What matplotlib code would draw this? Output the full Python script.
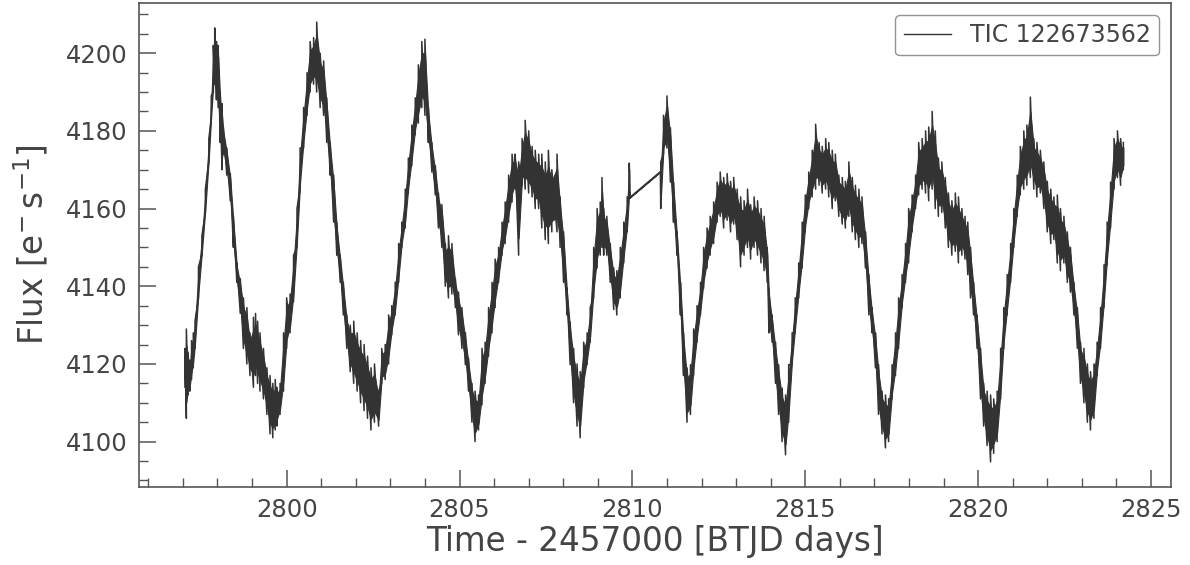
import numpy as np
import matplotlib
matplotlib.use("Agg")
import matplotlib.pyplot as plt

# Light curve: time, lower and upper envelope of the noisy flux
time = [2797.06, 2797.10, 2797.15, 2797.20, 2797.25, 2797.30, 2797.35, 2797.45, 2797.55, 2797.65,
        2797.75, 2797.82, 2797.88, 2797.92, 2797.97, 2798.02, 2798.08, 2798.13, 2798.17, 2798.27,
        2798.37, 2798.46, 2798.56, 2798.66, 2798.75, 2798.85, 2798.94, 2799.04, 2799.10, 2799.16,
        2799.23, 2799.33, 2799.43, 2799.52, 2799.60, 2799.67, 2799.72, 2799.81, 2799.91, 2800.00,
        2800.10, 2800.20, 2800.30, 2800.39, 2800.49, 2800.59, 2800.68, 2800.78, 2800.87, 2800.97,
        2801.07, 2801.16, 2801.26, 2801.36, 2801.45, 2801.55, 2801.64, 2801.74, 2801.84, 2801.94,
        2802.04, 2802.14, 2802.24, 2802.34, 2802.44, 2802.54, 2802.66, 2802.75, 2802.85, 2802.95,
        2803.04, 2803.14, 2803.24, 2803.33, 2803.43, 2803.52, 2803.62, 2803.72, 2803.81, 2803.91,
        2804.00, 2804.10, 2804.20, 2804.30, 2804.39, 2804.49, 2804.59, 2804.68, 2804.78, 2804.88,
        2804.97, 2805.07, 2805.17, 2805.26, 2805.36, 2805.45, 2805.55, 2805.65, 2805.74, 2805.84,
        2805.94, 2806.03, 2806.13, 2806.23, 2806.32, 2806.42, 2806.52, 2806.61, 2806.71, 2806.81,
        2806.90, 2807.00, 2807.10, 2807.19, 2807.29, 2807.38, 2807.48, 2807.57, 2807.67, 2807.82,
        2807.91, 2808.01, 2808.11, 2808.20, 2808.30, 2808.40, 2808.49, 2808.59, 2808.69, 2808.78,
        2808.88, 2808.98, 2809.07, 2809.12, 2809.17, 2809.26, 2809.36, 2809.46, 2809.55, 2809.65,
        2809.75, 2809.85, 2809.91, 2809.92,
        2810.81, 2810.82, 2810.90, 2811.00, 2811.10, 2811.19, 2811.29, 2811.39, 2811.48, 2811.58,
        2811.68, 2811.77, 2811.87, 2811.97, 2812.06, 2812.16, 2812.25, 2812.35, 2812.45, 2812.54,
        2812.64, 2812.74, 2812.84, 2812.93, 2813.03, 2813.13, 2813.23, 2813.33, 2813.42, 2813.52,
        2813.62, 2813.72, 2813.81, 2813.90, 2813.95, 2814.04, 2814.14, 2814.23, 2814.33, 2814.43,
        2814.52, 2814.62, 2814.71, 2814.81, 2814.91, 2815.00, 2815.10, 2815.20, 2815.30, 2815.40,
        2815.49, 2815.59, 2815.68, 2815.78, 2815.87, 2815.97, 2816.07, 2816.16, 2816.26, 2816.36,
        2816.45, 2816.55, 2816.64, 2816.74, 2816.84, 2816.93, 2817.03, 2817.12, 2817.22, 2817.32,
        2817.41, 2817.51, 2817.61, 2817.70, 2817.80, 2817.90, 2817.99, 2818.09, 2818.19, 2818.28,
        2818.38, 2818.48, 2818.57, 2818.67, 2818.76, 2818.85, 2818.95, 2819.05, 2819.14, 2819.24,
        2819.34, 2819.43, 2819.53, 2819.62, 2819.70, 2819.78, 2819.87, 2819.97, 2820.07, 2820.16,
        2820.26, 2820.36, 2820.45, 2820.55, 2820.65, 2820.74, 2820.84, 2820.94, 2821.03, 2821.13,
        2821.22, 2821.32, 2821.41, 2821.51, 2821.61, 2821.70, 2821.80, 2821.90, 2822.00, 2822.10,
        2822.19, 2822.29, 2822.38, 2822.48, 2822.58, 2822.67, 2822.77, 2822.87, 2822.96, 2823.06,
        2823.16, 2823.25, 2823.35, 2823.44, 2823.54, 2823.64, 2823.73, 2823.83, 2823.93, 2824.03,
        2824.12, 2824.20]

flux_low = [4114, 4106, 4112, 4113, 4116, 4119, 4124, 4137, 4148, 4159,
            4172, 4183, 4190, 4192, 4188, 4186, 4177, 4170, 4174, 4168.6,
            4162, 4150, 4141, 4133, 4124, 4120, 4117, 4114, 4117, 4115,
            4113, 4111, 4107, 4102, 4101, 4103, 4104, 4107, 4113, 4124,
            4128, 4136, 4150, 4165, 4175.6, 4184, 4190, 4192, 4190, 4186,
            4184, 4177, 4168.6, 4156.5, 4148, 4141, 4132.6, 4124, 4118, 4115,
            4113, 4110, 4108, 4106, 4103, 4105, 4104, 4115, 4116, 4120,
            4127.5, 4132.6, 4141, 4150, 4155, 4164, 4171, 4179, 4182, 4186,
            4184, 4177, 4169.4, 4163.5, 4155, 4150, 4140, 4137, 4138, 4134.5,
            4127.5, 4124, 4119.8, 4113, 4105, 4100, 4103, 4109.5, 4115, 4122,
            4128, 4134.5, 4141, 4148, 4151, 4156.5, 4161.7, 4165, 4148, 4166,
            4165, 4164, 4163, 4160, 4160, 4155, 4152, 4151, 4154, 4154,
            4150, 4141, 4132.6, 4119.8, 4110, 4104, 4101, 4113.8, 4119.8, 4125.6,
            4137, 4144.7, 4148, 4150, 4148, 4148, 4141, 4134, 4132.6, 4137,
            4146, 4154, 4162.8, 4162.8,
            4169.5, 4160, 4174, 4175.6, 4166.8, 4156.5, 4148, 4132.6, 4117, 4105,
            4107, 4117, 4125.6, 4132.6, 4139.5, 4144.7, 4148, 4151, 4156.5, 4158,
            4155, 4157, 4154, 4156, 4152, 4145, 4148, 4150, 4147, 4150,
            4148, 4146, 4144, 4141, 4128, 4125.6, 4115, 4107, 4100, 4096.6,
            4105, 4119.8, 4128, 4137, 4144.7, 4154, 4160, 4163, 4165, 4166,
            4164, 4165, 4163, 4160, 4162, 4158, 4156, 4155, 4158, 4154,
            4152, 4150, 4151, 4144.7, 4132.6, 4128, 4119, 4107, 4102, 4098.4,
            4100, 4111, 4117, 4124, 4134.5, 4141, 4146, 4154, 4160, 4163.5,
            4165, 4164, 4162, 4165, 4160, 4158, 4159, 4155, 4150, 4148,
            4149, 4146, 4148, 4147, 4143, 4137, 4132.6, 4124, 4111, 4104,
            4099, 4094.8, 4097, 4100, 4111, 4124, 4132.6, 4141, 4150, 4158,
            4163.5, 4165, 4166, 4168, 4165, 4163, 4164, 4160, 4154, 4151,
            4152, 4146, 4144, 4146, 4141, 4138.5, 4132.6, 4124, 4115, 4110,
            4105, 4103, 4106, 4117, 4124, 4134.5, 4145.5, 4155, 4165, 4168,
            4166, 4170]

flux_high = [4124, 4129, 4123, 4121, 4126, 4128, 4131, 4145, 4153, 4165,
             4178, 4189, 4202, 4206.5, 4203, 4202, 4190, 4187, 4181, 4175.6,
             4169, 4158, 4146, 4142, 4137, 4134.5, 4128, 4132, 4133, 4131,
             4128, 4124, 4119, 4117, 4115, 4116, 4114, 4115, 4128, 4137,
             4138, 4148, 4160, 4175.6, 4186, 4195, 4203, 4204, 4208, 4200,
             4198, 4188.5, 4177, 4168.6, 4156.5, 4148, 4141, 4132.6, 4130, 4131,
             4128, 4126, 4125, 4122, 4119, 4120, 4113, 4124, 4125, 4132.6,
             4135, 4141, 4151, 4156.5, 4165, 4173, 4181.5, 4188.5, 4197, 4203,
             4203.6, 4186, 4177, 4171, 4164, 4161, 4151, 4153, 4151, 4142,
             4138.5, 4134.5, 4128, 4121.5, 4115, 4113, 4112, 4124, 4125.6, 4134.5,
             4141, 4147, 4150, 4156.5, 4161.7, 4168.6, 4174, 4174, 4172, 4178,
             4182.7, 4180, 4176, 4175, 4174, 4174, 4172, 4175, 4170, 4174,
             4163, 4154, 4139.5, 4130.8, 4124, 4120, 4118, 4125.6, 4128, 4134.5,
             4150, 4160, 4161.7, 4168, 4160, 4158, 4151, 4144.7, 4144, 4150,
             4156.5, 4163, 4171.7, 4162.8,
             4169.5, 4172, 4184, 4189, 4180.8, 4166.8, 4154, 4141, 4128, 4119,
             4119.8, 4129, 4135, 4141, 4150, 4155, 4158, 4161.7, 4166.8, 4169.4,
             4168, 4169, 4167, 4168, 4165, 4163, 4162, 4165, 4161, 4163,
             4162, 4160, 4158, 4150, 4139.5, 4132.6, 4125.6, 4119.8, 4113.8, 4112,
             4119.8, 4128, 4137, 4146, 4156.5, 4163.5, 4169.4, 4175, 4181.7, 4177,
             4176, 4178, 4177, 4175, 4174, 4168.6, 4168, 4167, 4172, 4168,
             4166, 4165, 4163, 4154, 4143, 4134.5, 4128, 4119.8, 4113, 4112,
             4111, 4119.8, 4128, 4137, 4143, 4151, 4160, 4163.5, 4168.6, 4177,
             4178, 4180, 4181, 4185, 4180, 4173, 4172, 4168, 4164, 4162,
             4164, 4163, 4160, 4158, 4156.5, 4150, 4141, 4132.6, 4124, 4115,
             4113, 4112, 4111, 4113, 4124, 4134.5, 4143, 4151, 4160, 4168.6,
             4176, 4180, 4181.5, 4188.7, 4178, 4177, 4175, 4172, 4167, 4165,
             4163, 4163.5, 4160, 4158, 4154, 4150, 4141, 4134.5, 4125.6, 4124,
             4120, 4118, 4120, 4125.6, 4134.5, 4145.5, 4156.5, 4166.8, 4178, 4180,
             4178, 4177]

target_label = "TIC 122673562"
x_label = "Time - 2457000 [BTJD days]"
y_label = r"Flux [$\mathrm{e^{-}\,s^{-1}}$]"

t = np.asarray(time)
lo = np.asarray(flux_low)
hi = np.asarray(flux_high)
xs = np.repeat(t, 2)
ys = np.column_stack([lo, hi]).ravel()

TXT = "#444444"
LC = "#333333"
plt.rcParams["font.family"] = ["DejaVu Sans"]

fig = plt.figure(figsize=(11.9, 5.65), dpi=100)
ax = fig.add_axes([0.1168, 0.1386, 0.867, 0.856])

# dense core of the noisy band, with the individual lo/hi readings drawn as spikes
core = 0.18 * (hi - lo)
ax.fill_between(t, lo + core, hi - core, color=LC, lw=0.8, edgecolor=LC)
ax.plot(xs, ys, color=LC, lw=1.1, label=target_label)

ax.set_xlim(2795.73, 2825.57)
ax.set_ylim(4088.4, 4212.9)
ax.set_xticks([2800, 2805, 2810, 2815, 2820, 2825])
ax.set_yticks([4100, 4120, 4140, 4160, 4180, 4200])
ax.xaxis.set_minor_locator(matplotlib.ticker.MultipleLocator(1))
ax.yaxis.set_minor_locator(matplotlib.ticker.MultipleLocator(5))

ax.tick_params(which="both", direction="in", colors="#555555", labelcolor=TXT,
               labelsize=17.5, top=False, right=False)
ax.tick_params(which="major", length=12.5, width=1.1, pad=8)
ax.tick_params(which="minor", length=6.5, width=1.0)
for s in ax.spines.values():
    s.set_color("#555555")
    s.set_linewidth(1.2)

ax.set_xlabel(x_label, fontsize=23.5, color=TXT, labelpad=2)
ax.set_ylabel(y_label, fontsize=23.5, color=TXT, labelpad=11)

leg = ax.legend(loc="upper right", fontsize=17, frameon=True, fancybox=True,
                handlelength=2.0, borderpad=0.35, labelcolor=TXT)
leg.get_frame().set_edgecolor("#777777")
leg.get_frame().set_linewidth(1.0)
for h in leg.get_lines():
    h.set_linewidth(1.0)

fig.savefig("out.png", dpi=100)
